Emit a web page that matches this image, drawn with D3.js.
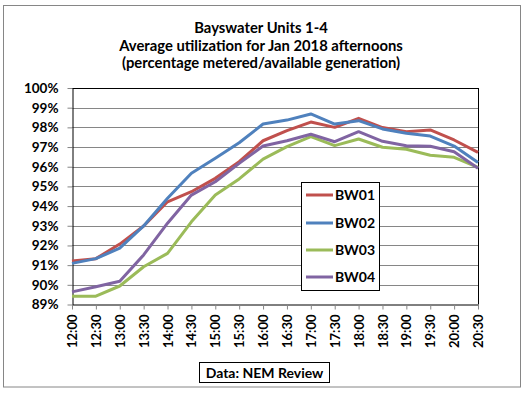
<!DOCTYPE html>
<html><head><meta charset="utf-8">
<script src="https://cdn.jsdelivr.net/npm/d3@7"></script>
<style>
html,body{margin:0;padding:0;background:#fff;}
svg text{font-family:Lato,"Liberation Sans",Arial,sans-serif;font-weight:bold;fill:#000;}
</style></head>
<body>
<svg id="chart" width="527" height="395"></svg>
<script>
const times = ["12:00","12:30","13:00","13:30","14:00","14:30","15:00","15:30","16:00","16:30","17:00","17:30","18:00","18:30","19:00","19:30","20:00","20:30"];
const bw01 = [91.21,91.33,92.07,92.99,94.22,94.73,95.41,96.26,97.32,97.83,98.27,98.00,98.46,97.99,97.78,97.87,97.36,96.73];
const bw02 = [91.09,91.33,91.86,92.99,94.40,95.67,96.43,97.22,98.17,98.37,98.68,98.17,98.34,97.92,97.70,97.56,97.05,96.22];
const bw03 = [89.42,89.42,89.94,90.92,91.60,93.20,94.56,95.38,96.39,97.02,97.53,97.07,97.41,96.99,96.89,96.58,96.48,95.97];
const bw04 = [89.64,89.90,90.18,91.52,93.13,94.56,95.24,96.17,97.05,97.32,97.65,97.27,97.78,97.29,97.07,97.04,96.76,95.92];
const seriesNames = ["BW01","BW02","BW03","BW04"];
const colors = ["#C0504D","#4F81BD","#9BBB59","#8064A2"];
const yTicks = [89,90,91,92,93,94,95,96,97,98,99,100];
const titleLines = ["Bayswater Units 1-4","Average utilization for Jan 2018 afternoons","(percentage metered/available generation)"];
const note = "Data: NEM Review";

const series = [bw01,bw02,bw03,bw04];
const svg = d3.select("#chart");
const L = 72, R = 478, T = 88, B = 304.5;

svg.append("rect").attr("x",3.5).attr("y",5.5).attr("width",517).attr("height",381.5)
  .attr("fill","#fff").attr("stroke","#868686").attr("stroke-width",1);

const x = d3.scalePoint().domain(times).range([L,R]);
const y = d3.scaleLinear().domain([89,100]).range([B,T]);

// gridlines
svg.append("g").selectAll("line").data(yTicks.slice(1)).join("line")
  .attr("x1",L).attr("x2",R).attr("y1",d=>Math.round(y(d))+0.5).attr("y2",d=>Math.round(y(d))+0.5)
  .attr("stroke","#868686").attr("stroke-width",1);

// plot border top/right
svg.append("line").attr("x1",L).attr("x2",R+0.5).attr("y1",T+0.5).attr("y2",T+0.5).attr("stroke","#000");
svg.append("line").attr("x1",R+0.5).attr("x2",R+0.5).attr("y1",T).attr("y2",B).attr("stroke","#000");

// y axis
const yAxis = d3.axisLeft(y).tickValues(yTicks).tickFormat(d=>d+"%").tickSize(5).tickSizeOuter(0);
const gy = svg.append("g").attr("transform",`translate(${L+0.5},0)`).call(yAxis);
gy.select(".domain").attr("stroke","#000");
gy.selectAll(".tick line").attr("stroke","#868686");
gy.selectAll(".tick text").attr("x",-14).attr("font-size","13.5px").attr("fill","#000")
  .style("font-family","Lato, 'Liberation Sans', sans-serif").style("font-weight","bold");

// x axis
const xAxis = d3.axisBottom(x).tickSize(5).tickSizeOuter(0);
const gx = svg.append("g").attr("transform",`translate(0,${B})`).call(xAxis);
gx.select(".domain").attr("stroke","#000");
gx.selectAll(".tick line").attr("stroke","#868686");
gx.selectAll(".tick text").attr("transform","rotate(-90)").attr("x",-10).attr("y",0).attr("dy","0.35em")
  .attr("text-anchor","end").attr("font-size","13px").attr("fill","#000")
  .style("font-family","Lato, 'Liberation Sans', sans-serif").style("font-weight","bold");

// lines
const line = d3.line().x((d,i)=>x(times[i])).y(d=>y(d));
svg.append("g").selectAll("path").data(series).join("path")
  .attr("d",line).attr("fill","none").attr("stroke",(d,i)=>colors[i])
  .attr("stroke-width",3).attr("stroke-linejoin","round");

// title
svg.append("g").selectAll("text").data(titleLines).join("text")
  .attr("x",261).attr("y",(d,i)=>33+i*17.7).attr("text-anchor","middle")
  .attr("font-size","14.8px").text(d=>d);

// legend
const lg = svg.append("g");
lg.append("rect").attr("x",301.5).attr("y",182.5).attr("width",78).attr("height",108)
  .attr("fill","#fff").attr("stroke","#000");
const ly = [195,223,250,277];
seriesNames.forEach((n,i)=>{
  lg.append("line").attr("x1",306).attr("x2",333).attr("y1",ly[i]).attr("y2",ly[i])
    .attr("stroke",colors[i]).attr("stroke-width",3);
  lg.append("text").attr("x",335).attr("y",ly[i]).attr("dy","0.35em").attr("font-size","14px").text(n);
});

// note box
svg.append("rect").attr("x",199.5).attr("y",362.5).attr("width",130).attr("height",20)
  .attr("fill","#fff").attr("stroke","#000");
svg.append("text").attr("x",264.5).attr("y",377.5).attr("text-anchor","middle")
  .attr("font-size","14px").text(note);
</script>
</body></html>
